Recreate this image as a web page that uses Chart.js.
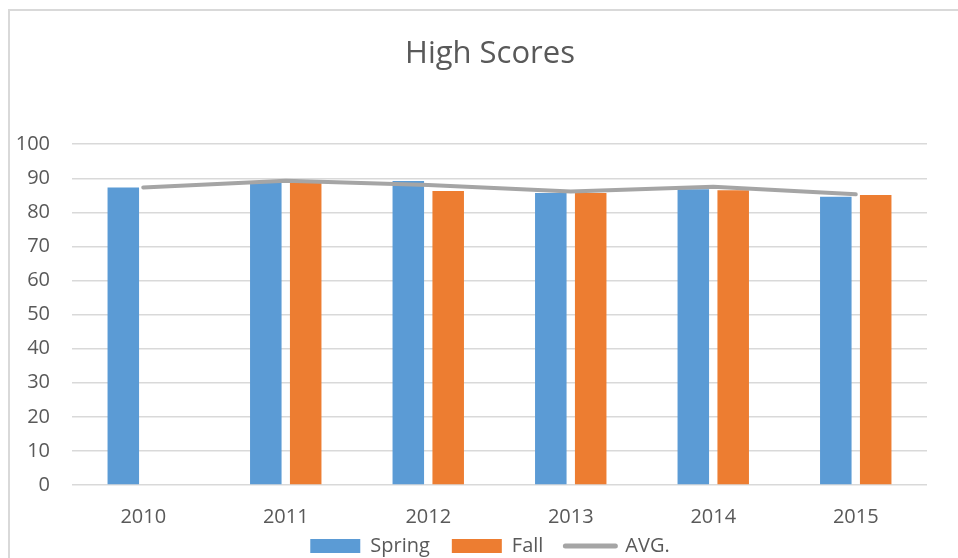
<!DOCTYPE html>
<html>
<head>
<meta charset="utf-8">
<script src="https://cdn.jsdelivr.net/npm/chart.js@4/dist/chart.umd.min.js"></script>
<style>
  html, body { margin: 0; padding: 0; background: #fff; overflow: hidden; }
  #wrap { width: 958px; height: 566px; position: relative; }
</style>
</head>
<body>
<div id="wrap"><canvas id="chart"></canvas></div>
<script>
const years = ['2010', '2011', '2012', '2013', '2014', '2015'];
const springScores = [87.3, 88.7, 89.2, 85.7, 86.8, 84.6];
const fallScores = [null, 89.4, 86.3, 85.7, 86.5, 85.1];
const avgScores = [87.3, 89.3, 88.0, 86.1, 87.5, 85.3];

const textGrey = '#595959';
const gridGrey = '#D9D9D9';

// light frame around the chart, like the spreadsheet chart box
const frame = {
  id: 'frame',
  afterLayout(chart) {
    // let tick labels spill outside their boxes without being clipped
    chart.scales.y.left = 0;
    chart.scales.x.bottom = chart.scales.x.top + 50;
  },
  beforeDraw(chart) {
    const c = chart.ctx;
    c.save();
    c.strokeStyle = '#D9D9D9';
    c.lineWidth = 2;
    c.beginPath();
    c.moveTo(9, chart.height);
    c.lineTo(9, 10);
    c.lineTo(chart.width, 10);
    c.stroke();
    c.restore();
  }
};

new Chart(document.getElementById('chart'), {
  type: 'bar',
  data: {
    labels: years,
    datasets: [
      { label: 'Spring', data: springScores, backgroundColor: '#5B9BD5', order: 1 },
      { label: 'Fall', data: fallScores, backgroundColor: '#ED7D31', order: 1 },
      {
        label: 'AVG.', type: 'line', data: avgScores, order: 0,
        borderColor: '#A5A5A5', borderWidth: 4, pointRadius: 0, pointHoverRadius: 0,
        tension: 0, borderCapStyle: 'round', borderJoinStyle: 'round'
      }
    ]
  },
  options: {
    responsive: true,
    maintainAspectRatio: false,
    animation: false,
    categoryPercentage: 0.56,
    barPercentage: 0.79,
    layout: { padding: { left: 53, right: 31, top: 0, bottom: 0 } },
    plugins: {
      title: {
        display: true, text: 'High Scores', color: textGrey,
        font: { family: 'Open Sans', size: 31, weight: 'normal' },
        padding: { top: 36, bottom: 71 }
      },
      legend: {
        position: 'bottom',
        labels: {
          color: textGrey,
          font: { family: 'Open Sans', size: 20 },
          usePointStyle: true,
          pointStyleWidth: 50,
          boxWidth: 50,
          boxHeight: 14,
          padding: 22,
          sort: (a, b) => a.datasetIndex - b.datasetIndex,
          generateLabels: (chart) => chart.data.datasets.map((ds, i) => {
            const isLine = ds.type === 'line';
            return {
              text: ds.label,
              datasetIndex: i,
              fillStyle: isLine ? ds.borderColor : ds.backgroundColor,
              strokeStyle: isLine ? ds.borderColor : ds.backgroundColor,
              lineWidth: isLine ? 5 : 0,
              lineCap: 'round',
              pointStyle: isLine ? 'line' : 'rect',
              fontColor: textGrey,
              hidden: false
            };
          })
        }
      },
      tooltip: { enabled: false }
    },
    scales: {
      x: {
        grid: { display: false, drawTicks: false },
        border: { display: false },
        ticks: { color: textGrey, font: { family: 'Open Sans', size: 20 }, padding: 20 },
        afterFit: (s) => { s.height = 29; }
      },
      y: {
        min: 0, max: 100,
        grid: { color: gridGrey, lineWidth: 1.5, drawTicks: false },
        border: { display: false },
        ticks: { stepSize: 10, color: textGrey, font: { family: 'Open Sans', size: 20 }, padding: 22 },
        afterFit: (s) => { s.width = 19; }
      }
    }
  },
  plugins: [frame]
});
</script>
</body>
</html>
